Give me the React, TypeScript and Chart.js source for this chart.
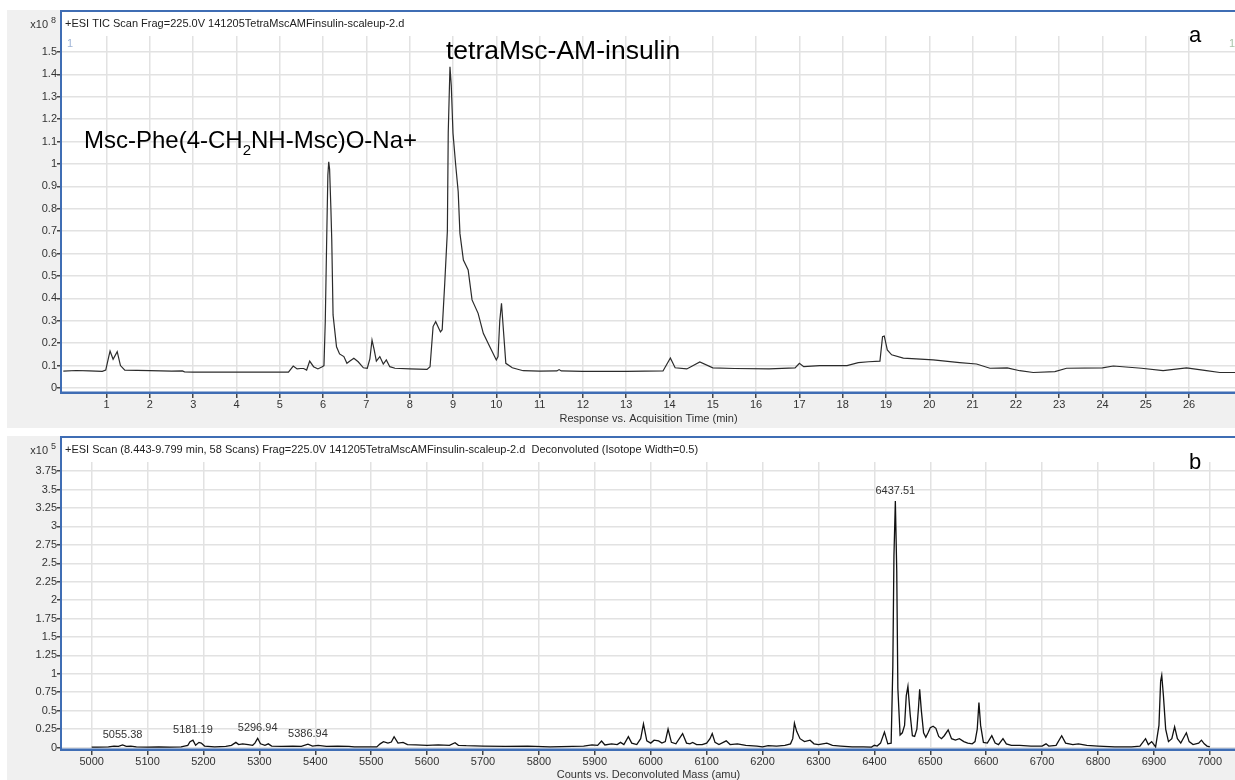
import React, { useEffect, useRef } from "react";
import { Chart, registerables } from "chart.js";

Chart.register(...registerables);

// (a) Total ion chromatogram: retention time (min) vs response (x10^8 counts)
const ticTime = [
  0.0, 0.3, 0.6, 0.9, 0.98, 1.05, 1.08, 1.15, 1.245, 1.32, 1.42, 2.0, 2.5, 2.75, 2.8, 3.0, 4.0, 5.2,
  5.31, 5.4, 5.48, 5.55, 5.62, 5.69, 5.78, 5.88, 5.98, 6.02, 6.05, 6.08, 6.11, 6.13, 6.15, 6.18,
  6.2, 6.23, 6.31, 6.38, 6.48, 6.55, 6.62, 6.71, 6.81, 6.93, 7.02, 7.08, 7.13, 7.18, 7.23, 7.31,
  7.39, 7.46, 7.54, 7.66, 8.0, 8.4, 8.47, 8.54, 8.6, 8.71, 8.75, 8.81, 8.87, 8.89, 8.93, 8.96, 9.0,
  9.06, 9.12, 9.16, 9.24, 9.35, 9.44, 9.58, 9.7, 9.85, 10.0, 10.04, 10.08, 10.12, 10.16, 10.22,
  10.37, 10.62, 11.0, 11.4, 11.45, 11.5, 12.0, 13.0, 13.85, 14.02, 14.13, 14.4, 14.7, 15.0, 15.5,
  16.3, 16.9, 17.0, 17.1, 17.47, 18.1, 18.36, 18.6, 18.86, 18.92, 18.96, 19.03, 19.13, 19.4, 20.09,
  20.7, 21.09, 21.4, 21.8, 22.09, 22.4, 22.9, 23.17, 24.0, 24.25, 24.9, 25.4, 25.94, 26.4, 26.71,
  27.06,
];
const ticResponse = [
  0.075, 0.078, 0.076, 0.074, 0.08, 0.14, 0.165, 0.128, 0.162, 0.1, 0.08, 0.077, 0.075, 0.076, 0.072,
  0.071, 0.071, 0.071, 0.098, 0.085, 0.087, 0.087, 0.08, 0.12, 0.095, 0.085, 0.095, 0.1, 0.296, 0.63,
  0.95, 1.009, 0.977, 0.8, 0.66, 0.326, 0.184, 0.152, 0.14, 0.11, 0.12, 0.133, 0.117, 0.09, 0.088,
  0.13, 0.214, 0.17, 0.12, 0.14, 0.107, 0.125, 0.095, 0.088, 0.085, 0.083, 0.095, 0.274, 0.296,
  0.25, 0.26, 0.47, 0.7, 1.14, 1.434, 1.35, 1.137, 1.0, 0.876, 0.69, 0.571, 0.527, 0.393, 0.333,
  0.244, 0.184, 0.125, 0.14, 0.3, 0.378, 0.27, 0.11, 0.09, 0.077, 0.075, 0.076, 0.082, 0.076, 0.074,
  0.074, 0.076, 0.134, 0.09, 0.085, 0.116, 0.09, 0.087, 0.085, 0.09, 0.11, 0.095, 0.1, 0.1, 0.113,
  0.117, 0.12, 0.229, 0.232, 0.17, 0.148, 0.133, 0.125, 0.113, 0.107, 0.088, 0.09, 0.077, 0.069,
  0.073, 0.088, 0.09, 0.098, 0.088, 0.077, 0.09, 0.077, 0.069, 0.069,
];
const ticTimeTicks = [1, 2, 3, 4, 5, 6, 7, 8, 9, 10, 11, 12, 13, 14, 15, 16, 17, 18, 19, 20, 21, 22, 23, 24, 25, 26];
const ticResponseTicks = [0, 0.1, 0.2, 0.3, 0.4, 0.5, 0.6, 0.7, 0.8, 0.9, 1, 1.1, 1.2, 1.3, 1.4, 1.5];

// (b) Deconvoluted spectrum: mass (amu) vs counts (x10^5)
const deconvMass = [
  5000, 5010, 5030, 5040, 5048, 5055.38, 5062, 5070, 5080, 5100, 5120, 5140, 5160, 5172, 5176,
  5181.19, 5186, 5192, 5196, 5202, 5220, 5240, 5250, 5258, 5263, 5270, 5280, 5288, 5292, 5296.94,
  5302, 5310, 5316, 5322, 5340, 5360, 5375, 5386.94, 5395, 5405, 5420, 5440, 5460, 5470, 5510, 5516,
  5522, 5530, 5536, 5541, 5548, 5557, 5565, 5580, 5600, 5620, 5640, 5650, 5656, 5670, 5700, 5740,
  5780, 5820, 5860, 5880, 5895, 5905, 5912, 5918, 5930, 5940, 5946, 5952, 5960, 5966, 5975, 5982,
  5987, 5993, 6000, 6006, 6014, 6020, 6026, 6031, 6037, 6045, 6057, 6064, 6070, 6075, 6082, 6092,
  6100, 6106, 6110, 6115, 6122, 6135, 6142, 6155, 6170, 6190, 6200, 6210, 6225, 6240, 6250, 6254,
  6257, 6261, 6267, 6275, 6285, 6292, 6300, 6315, 6325, 6340, 6360, 6380, 6395, 6400, 6405, 6411,
  6418, 6424, 6430, 6433, 6435, 6437.51, 6440, 6442, 6446, 6450, 6454, 6457, 6460, 6464, 6468, 6472,
  6476, 6479, 6481, 6484, 6488, 6492, 6496, 6500, 6505, 6510, 6515, 6520, 6525, 6532, 6538, 6545,
  6552, 6560, 6567, 6575, 6580, 6584, 6587, 6590, 6595, 6602, 6610, 6616, 6622, 6630, 6636, 6645,
  6660, 6680, 6700, 6707, 6712, 6725, 6735, 6742, 6755, 6765, 6780, 6800, 6830, 6860, 6875, 6885,
  6890, 6896, 6903, 6909, 6912, 6914, 6917, 6921, 6926, 6932, 6937, 6942, 6948, 6958, 6963, 6970,
  6980, 6985, 6990, 6995, 7000,
];
const deconvCounts = [
  0.005, 0.005, 0.01, 0.02, 0.015, 0.035, 0.015, 0.02, 0.008, 0.006, 0.01, 0.005, 0.01, 0.03, 0.08,
  0.1, 0.03, 0.07, 0.06, 0.02, 0.01, 0.015, 0.03, 0.07, 0.04, 0.05, 0.04, 0.03, 0.06, 0.125,
  0.05, 0.03, 0.05, 0.02, 0.015, 0.02, 0.015, 0.045, 0.02, 0.03, 0.015, 0.02, 0.015, 0.008, 0.008, 0.05,
  0.08, 0.06, 0.075, 0.147, 0.06, 0.07, 0.04, 0.035, 0.03, 0.035, 0.03, 0.065, 0.03, 0.025, 0.02, 0.015,
  0.02, 0.01, 0.015, 0.02, 0.035, 0.03, 0.088, 0.035, 0.05, 0.04, 0.07, 0.04, 0.147, 0.06, 0.04, 0.12,
  0.32, 0.09, 0.06, 0.1, 0.09, 0.06, 0.08, 0.25, 0.07, 0.05, 0.19, 0.06, 0.05, 0.07, 0.04, 0.04,
  0.06, 0.12, 0.19, 0.07, 0.04, 0.09, 0.04, 0.05, 0.03, 0.02, 0.01, 0.025, 0.02, 0.03, 0.05, 0.12,
  0.33, 0.22, 0.12, 0.08, 0.1, 0.05, 0.04, 0.06, 0.03, 0.02, 0.01, 0.01, 0.005, 0.03, 0.02, 0.06,
  0.21, 0.05, 0.06, 1.1, 2.6, 3.345, 2.4, 0.8, 0.17, 0.2, 0.3, 0.7, 0.83, 0.45, 0.16, 0.15,
  0.25, 0.55, 0.79, 0.5, 0.2, 0.14, 0.2, 0.27, 0.29, 0.26, 0.15, 0.12, 0.16, 0.24, 0.12, 0.1,
  0.12, 0.08, 0.06, 0.05, 0.08, 0.25, 0.61, 0.3, 0.07, 0.06, 0.16, 0.06, 0.04, 0.12, 0.05, 0.03,
  0.03, 0.02, 0.02, 0.05, 0.02, 0.03, 0.16, 0.06, 0.04, 0.05, 0.03, 0.02, 0.01, 0.01, 0.02, 0.12,
  0.04, 0.08, 0.01, 0.3, 0.9, 0.98, 0.7, 0.25, 0.08, 0.12, 0.28, 0.12, 0.06, 0.2, 0.08, 0.04,
  0.06, 0.1, 0.05, 0.02, 0.01,
];
const massTicks = [
  5000, 5100, 5200, 5300, 5400, 5500, 5600, 5700, 5800, 5900, 6000, 6100, 6200, 6300, 6400, 6500,
  6600, 6700, 6800, 6900, 7000,
];
const countTicks = [0, 0.25, 0.5, 0.75, 1, 1.25, 1.5, 1.75, 2, 2.25, 2.5, 2.75, 3, 3.25, 3.5, 3.75];
const labelledMasses = [5055.38, 5181.19, 5296.94, 5386.94, 6437.51];

const FRAME_BLUE = "#3f6db4";
const PANEL_GRAY = "#f0f0f0";
const GRID_GRAY = "#e2e2e2";
const TEXT_DARK = "#333333";
const UI_FONT = "'Liberation Sans', Arial, sans-serif";

type PanelOptions = {
  header: string;
  exponent: string;
  corner: string;
  cornerY: number;
  extra?: (chart: any) => void;
};

// Draws the grey instrument panel, white plot field, blue frame and header texts.
function panelPlugin(p: PanelOptions) {
  return {
    id: "panelFrame",
    beforeDraw(chart: any) {
      const { ctx, width, height, chartArea } = chart;
      ctx.save();
      ctx.fillStyle = PANEL_GRAY;
      ctx.fillRect(0, 0, width, height);
      ctx.fillStyle = "#ffffff";
      ctx.fillRect(chartArea.left, 1, width - chartArea.left, chartArea.bottom - 1);
      ctx.restore();
    },
    afterDraw(chart: any) {
      const { ctx, width, chartArea } = chart;
      const { left, bottom } = chartArea;
      ctx.save();
      ctx.fillStyle = FRAME_BLUE;
      ctx.fillRect(left - 2, 0, width - left + 2, 2);
      ctx.fillRect(left - 2, 0, 2, bottom + 2);
      ctx.fillRect(left - 2, bottom - 0.5, width - left + 2, 2.5);

      ctx.fillStyle = "#222";
      ctx.textBaseline = "middle";
      ctx.textAlign = "left";
      ctx.font = `11px ${UI_FONT}`;
      ctx.fillText(p.header, left + 3, 14);

      ctx.fillStyle = TEXT_DARK;
      ctx.textAlign = "right";
      ctx.fillText("x10", 41, 15);
      ctx.font = `9px ${UI_FONT}`;
      ctx.textAlign = "left";
      ctx.fillText(p.exponent, 44, 11);

      ctx.fillStyle = "#000";
      ctx.font = `22px ${UI_FONT}`;
      ctx.textAlign = "center";
      ctx.fillText(p.corner, 1188, p.cornerY);

      if (p.extra) p.extra(chart);
      ctx.restore();
    },
  };
}

function axisCommon() {
  return {
    grid: { color: GRID_GRAY, lineWidth: 1.5, tickLength: 5, tickColor: "#444", drawTicks: true },
    border: { display: false },
    ticks: {
      font: { family: UI_FONT, size: 11 },
      color: TEXT_DARK,
      padding: 0,
      autoSkip: false,
      maxRotation: 0,
    },
  };
}

function ticChartConfig(): any {
  const data = ticTime.map((t, i) => ({ x: t, y: ticResponse[i] }));
  const x = axisCommon();
  const y = axisCommon();
  return {
    type: "line",
    data: {
      datasets: [
        { data, borderColor: "#2b2b2b", borderWidth: 1.2, pointRadius: 0, tension: 0, fill: false },
      ],
    },
    options: {
      responsive: false,
      animation: false,
      events: [],
      layout: { padding: { top: 26, right: 0, left: 0, bottom: 0 } },
      plugins: { legend: { display: false }, tooltip: { enabled: false } },
      scales: {
        x: {
          ...x,
          type: "linear",
          min: -0.03,
          max: 27.06,
          grid: { ...x.grid, tickLength: 6 },
          afterBuildTicks: (s: any) => {
            s.ticks = ticTimeTicks.map((v) => ({ value: v }));
          },
          afterFit: (s: any) => {
            s.height = 36;
          },
          ticks: { ...x.ticks, callback: (v: any) => String(v) },
          title: {
            display: true,
            text: "Response vs. Acquisition Time (min)",
            font: { family: UI_FONT, size: 11 },
            color: TEXT_DARK,
            padding: { top: 0, bottom: 2 },
          },
        },
        y: {
          ...y,
          type: "linear",
          min: -0.018,
          max: 1.571,
          afterBuildTicks: (s: any) => {
            s.ticks = ticResponseTicks.map((v) => ({ value: v }));
          },
          afterFit: (s: any) => {
            s.width = 55;
          },
          ticks: { ...y.ticks, callback: (v: any) => String(v) },
        },
      },
    },
    plugins: [
      panelPlugin({
        header: "+ESI TIC Scan Frag=225.0V 141205TetraMscAMFinsulin-scaleup-2.d",
        exponent: "8",
        corner: "a",
        cornerY: 26,
        extra: (chart: any) => {
          const { ctx, chartArea } = chart;
          ctx.textBaseline = "alphabetic";
          ctx.textAlign = "left";
          ctx.font = `11px ${UI_FONT}`;
          ctx.fillStyle = "#9fb4d6";
          ctx.fillText("1", chartArea.left + 5, 37);
          ctx.fillStyle = "#a9c4a9";
          ctx.fillText("1", 1222, 37);

          // compound annotations
          ctx.fillStyle = "#000";
          ctx.font = `24px ${UI_FONT}`;
          let cx = 77;
          const base = 138;
          ctx.fillText("Msc-Phe(4-CH", cx, base);
          cx += ctx.measureText("Msc-Phe(4-CH").width;
          ctx.font = `15px ${UI_FONT}`;
          ctx.fillText("2", cx, base + 7);
          cx += ctx.measureText("2").width;
          ctx.font = `24px ${UI_FONT}`;
          ctx.fillText("NH-Msc)O-Na+", cx, base);

          ctx.font = `26.5px ${UI_FONT}`;
          ctx.fillText("tetraMsc-AM-insulin", 439, 49);
        },
      }),
    ],
  };
}

function deconvChartConfig(): any {
  const data = deconvMass.map((m, i) => ({ x: m, y: deconvCounts[i] }));
  const x = axisCommon();
  const y = axisCommon();
  return {
    type: "line",
    data: {
      datasets: [
        { data, borderColor: "#111111", borderWidth: 1.3, pointRadius: 0, tension: 0, fill: false },
      ],
    },
    options: {
      responsive: false,
      animation: false,
      events: [],
      layout: { padding: { top: 26, right: 0, left: 0, bottom: 0 } },
      plugins: { legend: { display: false }, tooltip: { enabled: false } },
      scales: {
        x: {
          ...x,
          type: "linear",
          min: 4947,
          max: 7045,
          grid: { ...x.grid, tickLength: 6 },
          afterBuildTicks: (s: any) => {
            s.ticks = massTicks.map((v) => ({ value: v }));
          },
          afterFit: (s: any) => {
            s.height = 31;
          },
          ticks: { ...x.ticks, callback: (v: any) => String(v) },
          title: {
            display: true,
            text: "Counts vs. Deconvoluted Mass (amu)",
            font: { family: UI_FONT, size: 11 },
            color: TEXT_DARK,
            padding: { top: 0, bottom: -2 },
          },
        },
        y: {
          ...y,
          type: "linear",
          min: -0.02,
          max: 3.874,
          afterBuildTicks: (s: any) => {
            s.ticks = countTicks.map((v) => ({ value: v }));
          },
          afterFit: (s: any) => {
            s.width = 55;
          },
          ticks: { ...y.ticks, callback: (v: any) => String(v) },
        },
      },
    },
    plugins: [
      panelPlugin({
        header:
          "+ESI Scan (8.443-9.799 min, 58 Scans) Frag=225.0V 141205TetraMscAMFinsulin-scaleup-2.d  Deconvoluted (Isotope Width=0.5)",
        exponent: "5",
        corner: "b",
        cornerY: 27,
        extra: (chart: any) => {
          const { ctx, scales } = chart;
          ctx.textAlign = "center";
          ctx.textBaseline = "middle";
          ctx.fillStyle = TEXT_DARK;
          ctx.font = `11px ${UI_FONT}`;
          labelledMasses.forEach((m) => {
            const idx = deconvMass.indexOf(m);
            const px = scales.x.getPixelForValue(m);
            const py = scales.y.getPixelForValue(deconvCounts[idx]);
            ctx.fillText(m.toFixed(2), px, py - 10);
          });
        },
      }),
    ],
  };
}

function ChartCanvas({ config, left, top, width, height }: any) {
  const ref = useRef<HTMLCanvasElement | null>(null);
  useEffect(() => {
    if (!ref.current) return;
    const chart = new Chart(ref.current, config());
    return () => chart.destroy();
  }, [config]);
  return (
    <canvas
      ref={ref}
      width={width}
      height={height}
      style={{ position: "absolute", left, top, width, height }}
    />
  );
}

export default function App() {
  return (
    <div
      style={{
        position: "fixed",
        left: 0,
        top: 0,
        width: 1235,
        height: 780,
        background: "#ffffff",
        overflow: "hidden",
      }}
    >
      <ChartCanvas config={ticChartConfig} left={7} top={10} width={1228} height={418} />
      <ChartCanvas config={deconvChartConfig} left={7} top={436} width={1228} height={344} />
    </div>
  );
}
